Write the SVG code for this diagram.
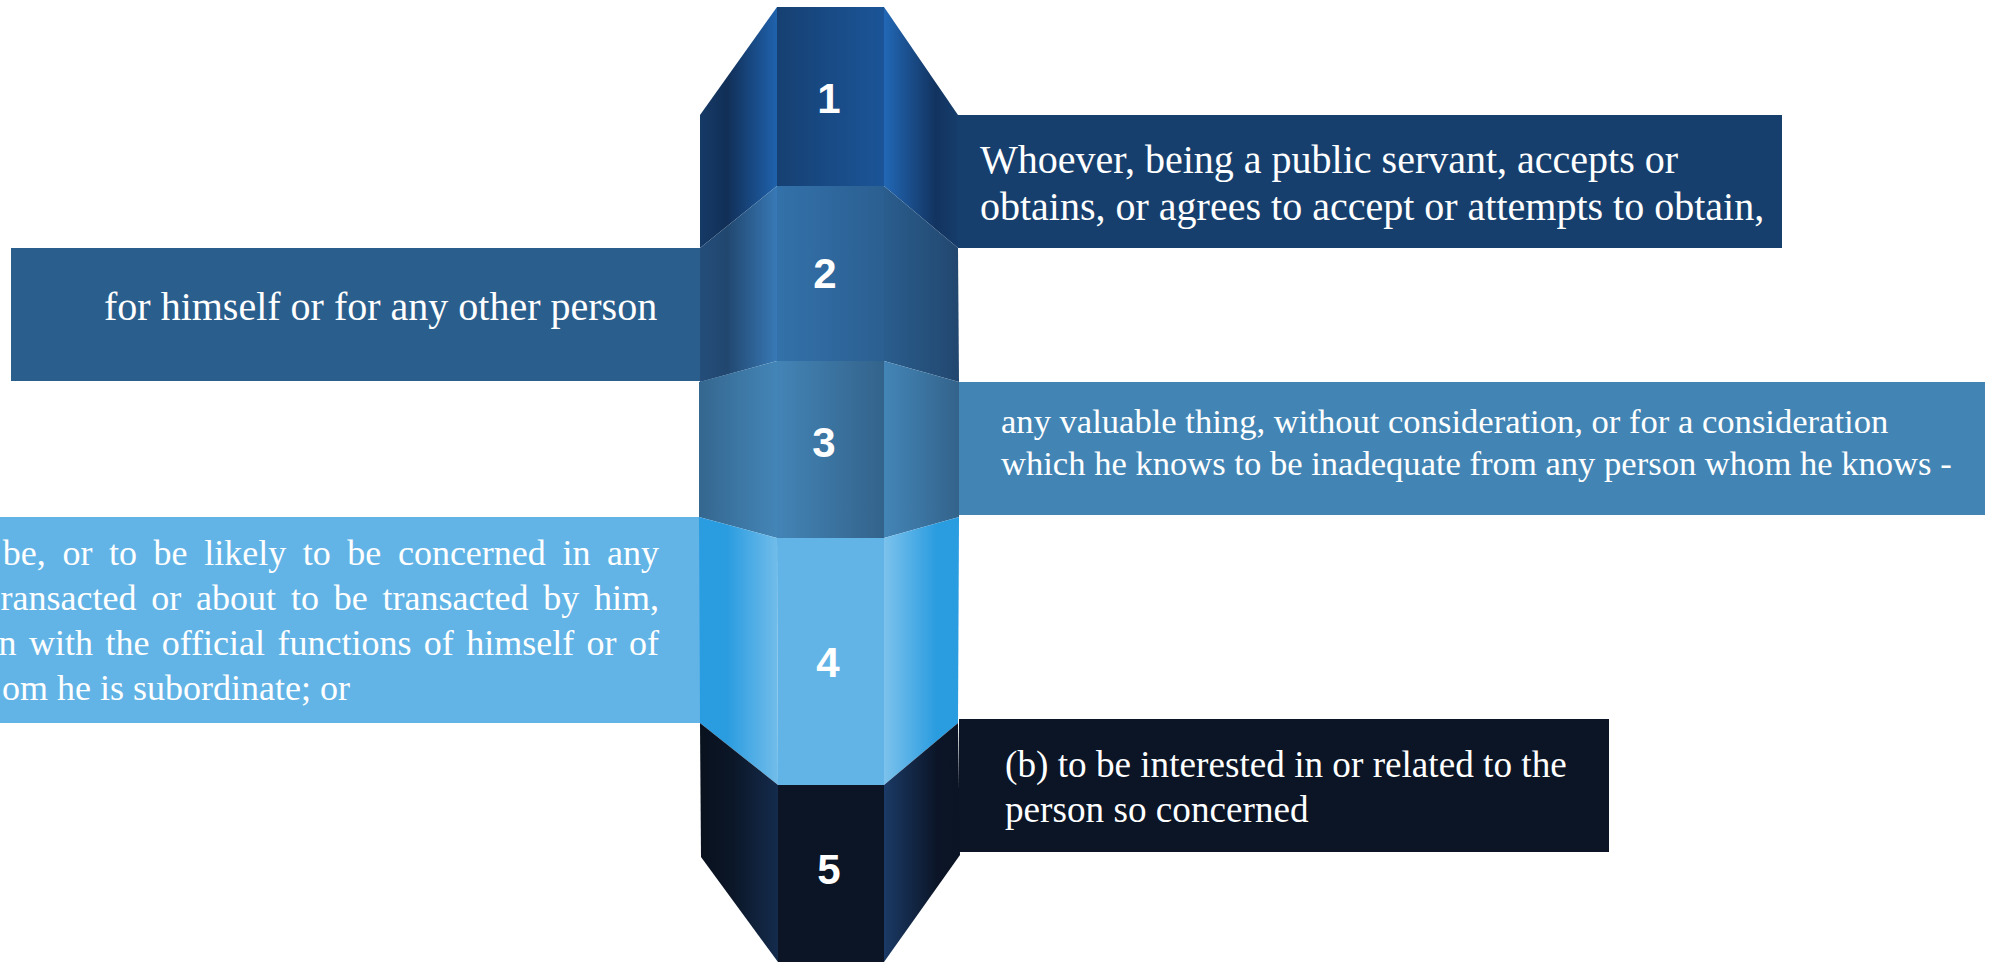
<svg xmlns="http://www.w3.org/2000/svg" width="1995" height="962" viewBox="0 0 1995 962">
<defs>
<linearGradient id="g1L" x1="0" x2="1" y1="0" y2="0"><stop offset="0" stop-color="#153a66"/><stop offset="0.35" stop-color="#112f57"/><stop offset="1" stop-color="#1f62ad"/></linearGradient>
<linearGradient id="g1C" x1="0" x2="1" y1="0" y2="0"><stop offset="0" stop-color="#164072"/><stop offset="1" stop-color="#1b5598"/></linearGradient>
<linearGradient id="g1R" x1="0" x2="1" y1="0" y2="0"><stop offset="0" stop-color="#2268b6"/><stop offset="0.7" stop-color="#12335f"/><stop offset="1" stop-color="#163d6b"/></linearGradient>
<linearGradient id="g2L" x1="0" x2="1" y1="0" y2="0"><stop offset="0" stop-color="#244d7a"/><stop offset="0.35" stop-color="#21476f"/><stop offset="1" stop-color="#3879b6"/></linearGradient>
<linearGradient id="g2C" x1="0" x2="1" y1="0" y2="0"><stop offset="0" stop-color="#3371aa"/><stop offset="1" stop-color="#2b5f91"/></linearGradient>
<linearGradient id="g2R" x1="0" x2="1" y1="0" y2="0"><stop offset="0" stop-color="#2a5d8d"/><stop offset="1" stop-color="#22476f"/></linearGradient>
<linearGradient id="g3L" x1="0" x2="1" y1="0" y2="0"><stop offset="0" stop-color="#35678f"/><stop offset="1" stop-color="#4385b7"/></linearGradient>
<linearGradient id="g3C" x1="0" x2="1" y1="0" y2="0"><stop offset="0" stop-color="#4384b6"/><stop offset="1" stop-color="#33638b"/></linearGradient>
<linearGradient id="g3R" x1="0" x2="1" y1="0" y2="0"><stop offset="0" stop-color="#4385b7"/><stop offset="1" stop-color="#33638b"/></linearGradient>
<linearGradient id="g4L" x1="0" x2="1" y1="0" y2="0"><stop offset="0" stop-color="#2a9ce0"/><stop offset="0.35" stop-color="#2a9ce0"/><stop offset="1" stop-color="#72bdea"/></linearGradient>
<linearGradient id="g4R" x1="0" x2="1" y1="0" y2="0"><stop offset="0" stop-color="#7cc2ec"/><stop offset="0.7" stop-color="#2a9ce0"/><stop offset="1" stop-color="#2a9ce0"/></linearGradient>
<linearGradient id="g5L" x1="0" x2="1" y1="0" y2="0"><stop offset="0" stop-color="#09111e"/><stop offset="0.4" stop-color="#0b1627"/><stop offset="1" stop-color="#142b4c"/></linearGradient>
<linearGradient id="g5R" x1="0" x2="1" y1="0" y2="0"><stop offset="0" stop-color="#1b3a66"/><stop offset="0.7" stop-color="#0b1527"/><stop offset="1" stop-color="#0a1424"/></linearGradient>
</defs>
<style>
.num{font-family:"Liberation Sans",Arial,sans-serif;font-weight:bold;font-size:42px;fill:#fff;text-anchor:middle}
.txt{font-family:"Liberation Serif","Times New Roman",serif;fill:#fff}
.j{font-size:36px;text-anchor:end}
</style>
<rect width="1995" height="962" fill="#ffffff"/>

<g id="box1">
<rect x="958" y="115" width="824" height="133" fill="#163f6e"/>
<text class="txt" font-size="40"><tspan x="980" y="173">Whoever, being a public servant, accepts or</tspan><tspan x="980" y="220">obtains, or agrees to accept or attempts to obtain,</tspan></text>
</g>
<g id="box2">
<rect x="11" y="248" width="689" height="133" fill="#2a5e8c"/>
<text class="txt" font-size="40" x="104" y="320">for himself or for any other person</text>
</g>
<g id="box3">
<rect x="959" y="382" width="1026" height="133" fill="#4285b5"/>
<text class="txt" font-size="34.6"><tspan x="1001" y="433">any valuable thing, without consideration, or for a consideration</tspan><tspan x="1001" y="475">which he knows to be inadequate from any person whom he knows -</tspan></text>
</g>
<g id="box4">
<rect x="0" y="517" width="700" height="206" fill="#63b4e6"/>
<text class="txt j" x="659" y="565" word-spacing="7.6">be, or to be likely to be concerned in any</text>
<text class="txt j" x="659" y="610" word-spacing="5.8">ransacted or about to be transacted by him,</text>
<text class="txt j" x="659" y="655" word-spacing="3.4">n with the official functions of himself or of</text>
<text class="txt" font-size="36" x="2" y="700">om he is subordinate; or</text>
</g>
<g id="box5">
<rect x="959" y="719" width="650" height="133" fill="#0b1526"/>
<text class="txt" font-size="37.2"><tspan x="1005" y="777">(b) to be interested in or related to the</tspan><tspan x="1005" y="822">person so concerned</tspan></text>
</g>

<g id="seg1">
<polygon points="700,115 777,7 777,186 700,248" fill="url(#g1L)"/>
<polygon points="777,7 884,7 884,186 777,186" fill="url(#g1C)"/>
<polygon points="884,7 958,115 958,248 884,186" fill="url(#g1R)"/>
<text class="num" x="829" y="113">1</text>
</g>
<g id="seg2">
<polygon points="700,248 777,186 777,361 700,382" fill="url(#g2L)"/>
<polygon points="777,186 884,186 884,361 777,361" fill="url(#g2C)"/>
<polygon points="884,186 958,248 959,382 884,361" fill="url(#g2R)"/>
<text class="num" x="825" y="288">2</text>
</g>
<g id="seg3">
<polygon points="699,382 777,361 777,538 699,517" fill="url(#g3L)"/>
<polygon points="777,361 884,361 884,538 777,538" fill="url(#g3C)"/>
<polygon points="884,361 959,382 959,517 884,538" fill="url(#g3R)"/>
<text class="num" x="824" y="457">3</text>
</g>
<g id="seg4">
<polygon points="699,517 777,538 778,785 700,723" fill="url(#g4L)"/>
<polygon points="777,538 884,538 884,785 778,785" fill="#63b4e6"/>
<polygon points="884,538 959,517 958,723 884,785" fill="url(#g4R)"/>
<text class="num" x="828" y="677">4</text>
</g>
<g id="seg5">
<polygon points="700,723 778,785 778,962 701,857" fill="url(#g5L)"/>
<polygon points="778,785 884,785 884,962 778,962" fill="#0b1526"/>
<polygon points="884,785 958,723 960,855 884,962" fill="url(#g5R)"/>
<text class="num" x="829" y="884">5</text>
</g>
</svg>
